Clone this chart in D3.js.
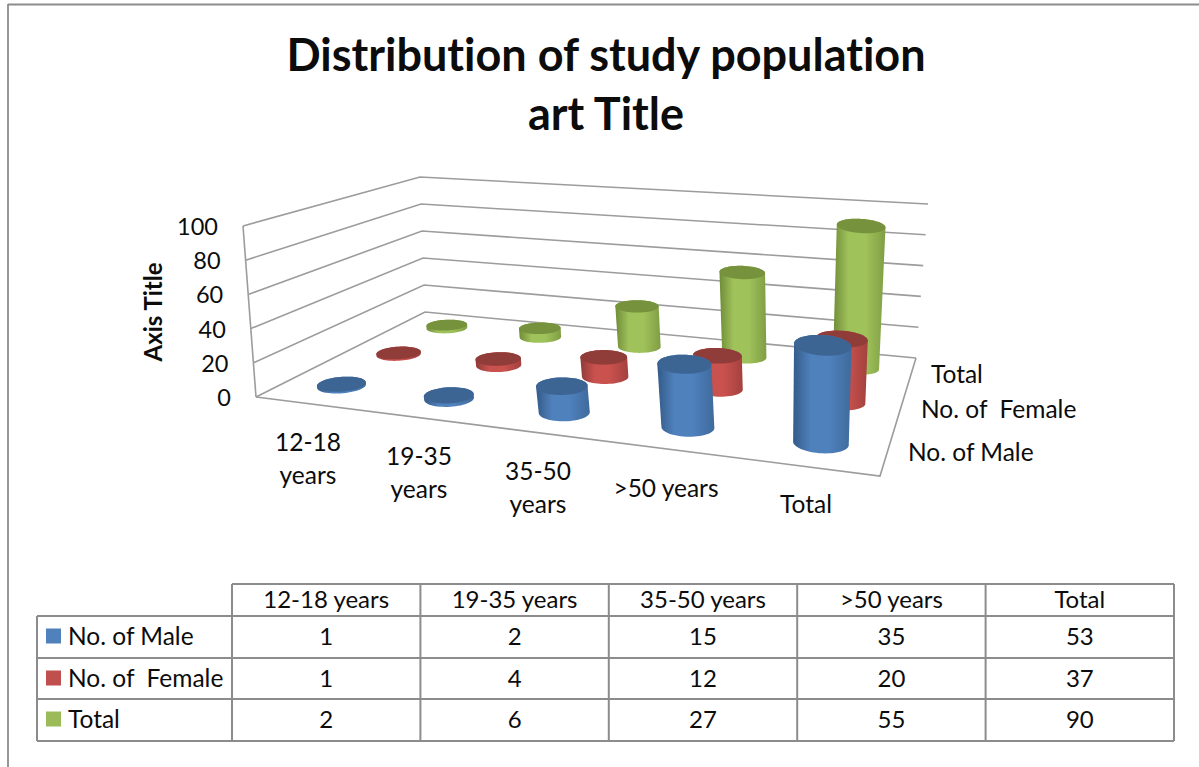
<!DOCTYPE html>
<html><head><meta charset="utf-8">
<script src="https://cdn.jsdelivr.net/npm/d3@7"></script>
<style>html,body{margin:0;padding:0;background:#fff}svg{display:block}text{font-family:Lato,"Open Sans",sans-serif;fill:#0c0c0c;font-variant-ligatures:none;white-space:pre}</style>
</head><body><svg id="c" width="1199" height="767"></svg>
<script>
const categories = ["12-18 years","19-35 years","35-50 years",">50 years","Total"];
const seriesNames = ["No. of Male","No. of  Female","Total"];
const male = [1,2,15,35,53];
const female = [1,4,12,20,37];
const totals = [2,6,27,55,90];
const yTicks = [0,20,40,60,80,100];
const titleLines = ["Distribution of study population","art Title"];
const axisTitle = "Axis Title";

const palette = {
  male:{top:"#3d6594",dark:"#345a88",mid:"#4f81bd",right:"#3f6a9c",key:"#4f81bd"},
  female:{top:"#903c39",dark:"#8f3b38",mid:"#c9514e",right:"#a3413e",key:"#c0504d"},
  total:{top:"#76923c",dark:"#6f8c38",mid:"#a0c25b",right:"#7f9e44",key:"#9bbb59"}
};
const seriesValues = [male,female,totals];
const seriesKeys = ["male","female","total"];

const svg = d3.select("#c");
const defs = svg.append("defs");

// box corners as seen on the page
const floor = [[256,397],[880,476],[916,358],[425,312]];
const roof  = [[243,226],[893,281],[928,204],[420,177]];

function homography(q){
  const [[x0,y0],[x1,y1],[x2,y2],[x3,y3]] = q;
  const dx1=x1-x2,dx2=x3-x2,dx3=x0-x1+x2-x3,dy1=y1-y2,dy2=y3-y2,dy3=y0-y1+y2-y3;
  const den=dx1*dy2-dx2*dy1;
  const g=(dx3*dy2-dx2*dy3)/den,h=(dx1*dy3-dx3*dy1)/den;
  const a=x1-x0+g*x1,b=x3-x0+h*x3,c=x0,d=y1-y0+g*y1,e=y3-y0+h*y3,f=y0;
  return (u,w)=>{const k=g*u+h*w+1;return [(a*u+b*w+c)/k,(d*u+e*w+f)/k];};
}
const Hfloor = homography(floor), Hroof = homography(roof);
const yScale = d3.scaleLinear().domain([0,100]).range([0,1]);
const uScale = d3.scaleBand().domain(categories).range([0,1.005]);
const wScale = d3.scaleBand().domain(seriesNames).range([0,1]);
function project(u,w,v){
  const a=Hfloor(u,w),b=Hroof(u,w),t=yScale(v);
  return [a[0]+(b[0]-a[0])*t,a[1]+(b[1]-a[1])*t];
}

// walls
const grid = svg.append("g").attr("fill","none").attr("stroke","#9c9c9c").attr("stroke-width",1.6);
const line = d3.line();
grid.selectAll("path.g").data(yTicks).join("path").attr("class","g")
  .attr("d",v=>line([project(0,0,v),project(0,1,v),project(1,1,v)]));
grid.append("path").attr("d",line([project(0,0,0),project(0,0,100)]));
grid.append("path").attr("d",line([project(0,0,0),project(1,0,0),project(1,1,0)]));

// y labels
svg.append("g").selectAll("text").data(yTicks).join("text")
  .attr("x",v=>project(0,0,v)[0]-25).attr("y",v=>project(0,0,v)[1]+3)
  .attr("text-anchor","end").attr("dominant-baseline","middle").attr("font-size",23.5).text(d=>d);

svg.append("text").attr("transform","translate(162,312) rotate(-90)")
  .attr("text-anchor","middle").attr("font-size",24).attr("font-weight",700).text(axisTitle);

// cylinders: the top cap is the base ring carried up to the value's height, barely enlarged
const ru=0.04, rw=0.07;
const angles=d3.range(0,360,6).map(d=>d*Math.PI/180);
function ring(i,j,v){
  const cu=uScale(categories[i])+uScale.bandwidth()/2, cw=wScale(seriesNames[j])+wScale.bandwidth()/2;
  const c0=project(cu,cw,0), c1=project(cu,cw,v), s=1+yScale(v)*0.06;
  return angles.map(a=>{
    const p=project(cu+ru*Math.cos(a),cw+rw*Math.sin(a),0);
    return [c1[0]+(p[0]-c0[0])*s,c1[1]+(p[1]-c0[1])*s];
  });
}
const marks=[];
[2,1,0].forEach(j=>categories.forEach((c,i)=>marks.push({i,j,v:seriesValues[j][i],key:seriesKeys[j]})));
const gc=svg.append("g");
marks.forEach((m,n)=>{
  const base=ring(m.i,m.j,0), top=ring(m.i,m.j,m.v), col=palette[m.key];
  const hull=d3.polygonHull(base.concat(top));
  const xs=hull.map(p=>p[0]);
  const id="cyl"+n;
  const lg=defs.append("linearGradient").attr("id",id).attr("gradientUnits","userSpaceOnUse")
    .attr("x1",d3.min(xs)).attr("x2",d3.max(xs)).attr("y1",0).attr("y2",0);
  [[0,col.dark],[0.3,col.mid],[0.62,col.mid],[1,col.right]].forEach(s=>lg.append("stop").attr("offset",s[0]).attr("stop-color",s[1]));
  gc.append("path").attr("d",line(hull)+"Z").attr("fill",`url(#${id})`);
  gc.append("path").attr("d",line(top)+"Z").attr("fill",col.top);
});

// category labels
const catLabels=[[["12-18","years"],308,451],[["19-35","years"],419,465],[["35-50","years"],538,480],[[">50 years"],666,497],[["Total"],806,513]];
const catG=svg.append("g").attr("font-size",24.5).attr("text-anchor","middle");
catLabels.forEach(([ls,x,y])=>ls.forEach((t,k)=>catG.append("text").attr("x",x).attr("y",y+k*32.5).text(t)));
const serLabels=[[seriesNames[2],931,383],[seriesNames[1],921,418],[seriesNames[0],908,461]];
svg.append("g").attr("font-size",24.5).selectAll("text").data(serLabels).join("text")
  .attr("x",d=>d[1]).attr("y",d=>d[2]).text(d=>d[0]);

// title
svg.append("g").attr("text-anchor","middle").attr("font-size",45).attr("font-weight",700)
  .selectAll("text").data(titleLines).join("text").attr("x",606).attr("y",(d,i)=>71+i*59).text(d=>d);

// data table
const colX=d3.scalePoint().domain(d3.range(6)).range([232,1174]);
const rowY=[584,616,658,699,741];
const tb=svg.append("g").attr("stroke","#8c8c8c").attr("stroke-width",2).attr("fill","none");
const hl=(x1,y,x2)=>tb.append("line").attr("x1",x1).attr("x2",x2).attr("y1",y).attr("y2",y);
const vl=(x,y1,y2)=>tb.append("line").attr("x1",x).attr("x2",x).attr("y1",y1).attr("y2",y2);
hl(232,rowY[0],1174);rowY.slice(1).forEach(y=>hl(37,y,1174));
vl(37,rowY[1],rowY[4]);
d3.range(6).forEach(k=>vl(colX(k),rowY[0],rowY[4]));
const tt=svg.append("g").attr("font-size",24);
const cx=k=>(colX(k)+colX(k+1))/2;
categories.forEach((c,k)=>tt.append("text").attr("x",cx(k)).attr("y",608).attr("text-anchor","middle").text(c));
seriesNames.forEach((s,j)=>{
  const y=rowY[j+1];
  svg.append("rect").attr("x",46).attr("y",y+12.5).attr("width",15).attr("height",15).attr("fill",palette[seriesKeys[j]].key);
  tt.append("text").attr("x",68).attr("y",y+28.5).attr("font-size",24.5).text(s);
  seriesValues[j].forEach((v,k)=>tt.append("text").attr("x",cx(k)).attr("y",y+29).attr("text-anchor","middle").text(v));
});

// frame
const fr=svg.append("g").attr("stroke","#8c8c8c").attr("stroke-width",1.8);
fr.append("line").attr("x1",8).attr("x2",1199).attr("y1",4.5).attr("y2",4.5);
fr.append("line").attr("x1",8).attr("x2",8).attr("y1",4).attr("y2",767);
</script></body></html>
